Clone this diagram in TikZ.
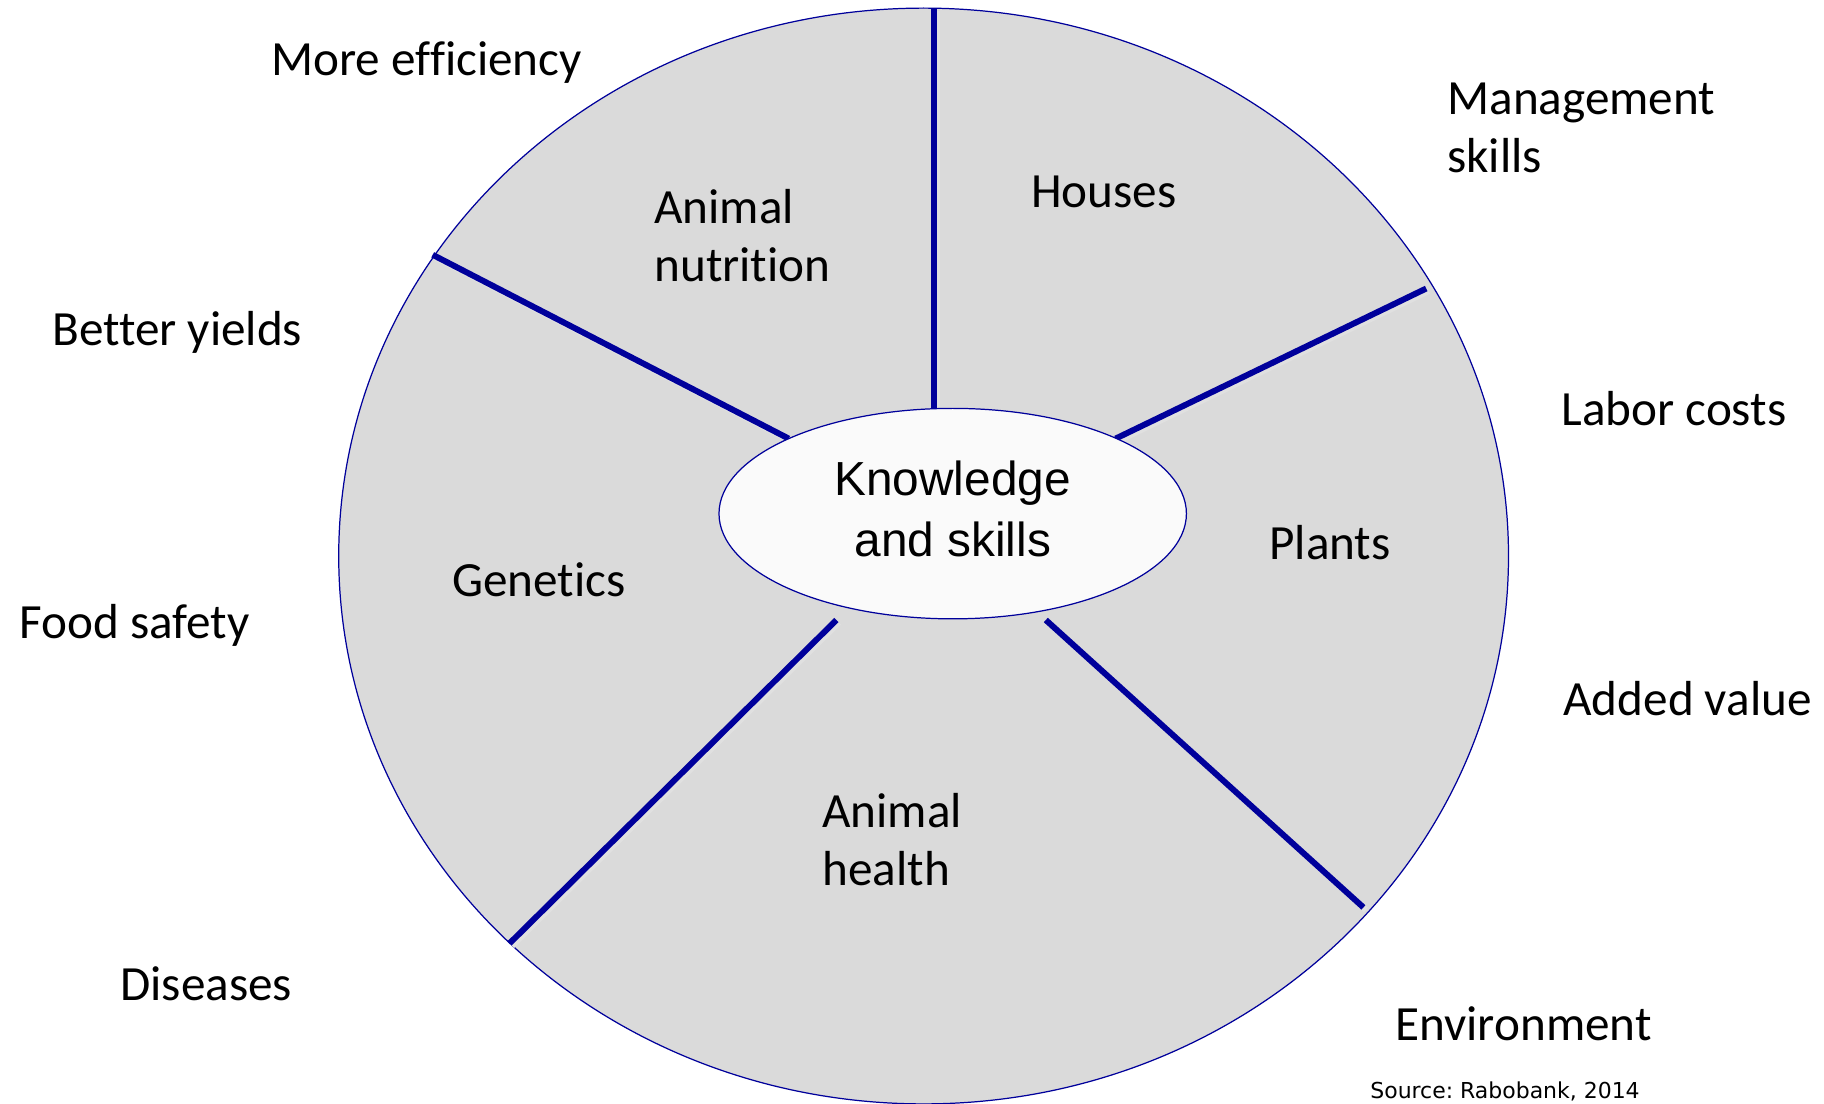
\documentclass[tikz,border=0pt]{standalone}
\usepackage{fontspec}
\setmainfont{Carlito}[Ligatures=NoCommon]
\newfontfamily\arialfont{Liberation Sans}
\newfontfamily\verdanafont{DejaVu Sans}
\usetikzlibrary{shapes.geometric}
\definecolor{spokeblue}{HTML}{00009B}
\definecolor{sectorgray}{HTML}{DADADA}
\definecolor{hubwhite}{HTML}{FAFAFA}

\begin{document}
\begin{tikzpicture}[x=0.02cm, y=-0.02cm,
    spoke/.style={line width=3.4pt, draw=spokeblue,
        preaction={draw=black!12, line width=3.4pt, transform canvas={shift={(0.05cm,-0.05cm)}}}},
    topic/.style={font=\fontsize{28}{33}\selectfont, align=left, inner sep=0pt},
    factor/.style={font=\fontsize{28}{33}\selectfont, align=left, anchor=west, inner sep=0pt}]
    \useasboundingbox (0,0) rectangle (1824,1103);

    % Outer wheel
    \node[ellipse, draw=spokeblue, line width=0.7pt, fill=sectorgray, minimum width=23.4cm, minimum height=21.92cm, inner sep=0pt] (Rim) at (923.6,556) {};

    % Spoke end points (clockwise from top)
    \coordinate (RimA) at (934,8);      \coordinate (HubA) at (934,409.5);
    \coordinate (RimC) at (1426.2,288.5); \coordinate (HubC) at (1115.6,438.6);
    \coordinate (RimE) at (1363.4,907.4); \coordinate (HubE) at (1045.8,620);
    \coordinate (RimD) at (509.5,943.4);  \coordinate (HubD) at (836.4,620);
    \coordinate (RimB) at (432.7,254.8);  \coordinate (HubB) at (788.7,438.6);

    % Draw spokes
    \draw[spoke] (HubA) -- (RimA);
    \draw[spoke] (HubB) -- (RimB);
    \draw[spoke] (HubC) -- (RimC);
    \draw[spoke] (HubD) -- (RimD);
    \draw[spoke] (HubE) -- (RimE);

    % Centre hub
    \node[ellipse, draw=spokeblue, line width=0.7pt, fill=hubwhite, minimum width=9.35cm, minimum height=4.21cm, inner sep=0pt, align=center, text depth=0.2cm, font=\arialfont\fontsize{27.2}{35}\selectfont] (Hub) at (952.7,513.6) {Knowledge\\and skills};

    % Segment labels
    \node[topic, anchor=west] (Nutrition) at (654,236) {Animal\\nutrition};
    \node[topic] (Houses) at (1104,192) {Houses};
    \node[topic] (Plants) at (1330,543) {Plants};
    \node[topic] (Genetics) at (539,580) {Genetics};
    \node[topic, anchor=west] (Health) at (822,840) {Animal\\health};

    % Outside factors
    \node[factor] (Efficiency) at (271,63) {More efficiency};
    \node[factor] (Management) at (1447,128) {Management\\skills};
    \node[factor] (Yields) at (52,332) {Better yields};
    \node[factor] (Labor) at (1561,409) {Labor costs};
    \node[factor] (Safety) at (19,625) {Food safety};
    \node[factor] (Value) at (1563,699) {Added value};
    \node[factor] (Diseases) at (120,984) {Diseases};
    \node[factor] (Environment) at (1395,1024) {Environment};
    \node[factor, font=\verdanafont\fontsize{12.5}{15}\selectfont] (Source) at (1370,1091) {Source:\ Rabobank, 2014};
\end{tikzpicture}
\end{document}
